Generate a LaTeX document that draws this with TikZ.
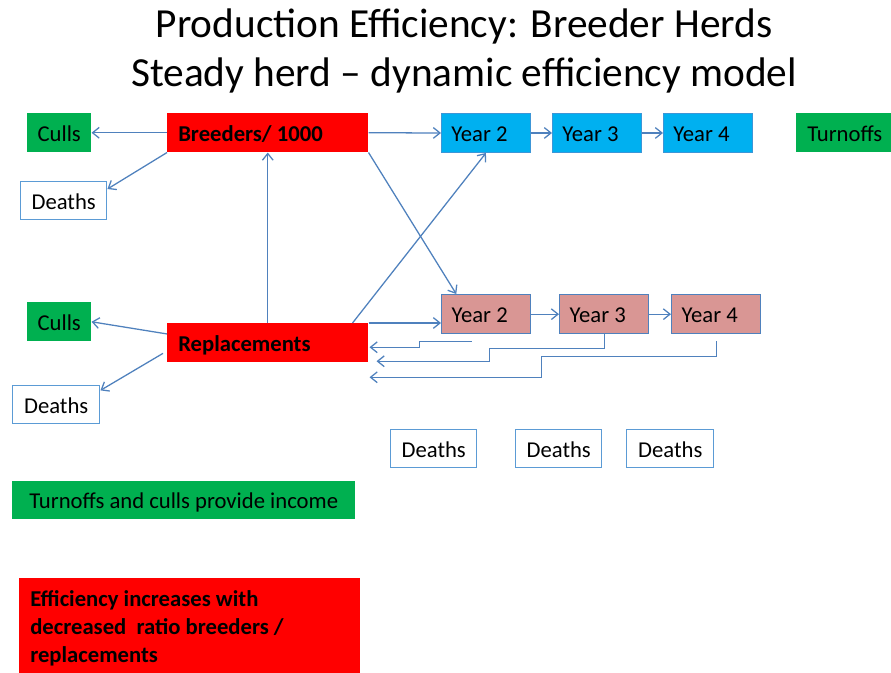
\documentclass[tikz,border=0pt]{standalone}
\usepackage{fontspec}
\setmainfont{Carlito}
\usetikzlibrary{arrows.meta,calc}
\definecolor{arrc}{RGB}{79,129,189}
\definecolor{cgreen}{RGB}{0,176,80}
\definecolor{cred}{RGB}{255,0,0}
\definecolor{cblue}{RGB}{0,176,240}
\definecolor{cbluedraw}{RGB}{60,150,215}
\definecolor{cpink}{RGB}{217,150,148}
\definecolor{cdeath}{RGB}{91,155,213}
\begin{document}
\begin{tikzpicture}[x=0.75pt,y=-0.75pt,
  box/.style={anchor=north west, inner ysep=0pt, minimum height=29.25pt,
    text height=13pt, text depth=0.2pt, font=\fontsize{17}{20}\selectfont},
  cbox/.style={box, inner xsep=0pt},
  lbox/.style={box},
  bbox/.style={lbox, inner xsep=8.25pt, font=\fontsize{17}{20}\selectfont\bfseries},
  yearb/.style={lbox, fill=cblue, draw=cbluedraw, line width=0.7pt, inner xsep=7.5pt},
  yearp/.style={lbox, fill=cpink, draw=arrc, line width=1pt, inner xsep=7.5pt},
  dbox/.style={cbox, fill=white, draw=cdeath, line width=1.1pt, minimum height=28.5pt},
  arr/.style={draw=arrc, line width=0.95pt, -{Straight Barb[length=5pt,width=8pt]}},
  ttl/.style={anchor=base, font=\fontsize{31}{37}\selectfont}
]
\useasboundingbox (0,0) rectangle (891,673);
\clip (0,0) rectangle (891,673);
\fill[white] (0,0) rectangle (891,673);

% title
\node[ttl] (t1) at (464,38) {Production Efficiency: Breeder Herds};
\node[ttl] (t2) at (464,87) {Steady herd -- dynamic efficiency model};

% top row
\node[cbox, fill=cgreen, minimum width=48pt] (cu1) at (27,113) {Culls};
\node[bbox, fill=cred] (br) at (167,113) {\makebox[134.25pt][l]{Breeders/ 1000}};
\node[dbox, minimum width=64.5pt] (de1) at (20,181) {Deaths};
\node[yearb] (b2) at (441,113) {\makebox[51.75pt][l]{Year 2}};
\node[yearb] (b3) at (552,113) {\makebox[51.75pt][l]{Year 3}};
\node[yearb] (b4) at (663,113) {\makebox[51.75pt][l]{Year 4}};
\node[lbox, fill=cgreen, inner xsep=8.25pt] (to) at (796,113) {\makebox[66pt][l]{Turnoffs}};

% middle row
\node[yearp] (p2) at (441,294) {\makebox[51.75pt][l]{Year 2}};
\node[yearp] (p3) at (559,294) {\makebox[51.75pt][l]{Year 3}};
\node[yearp] (p4) at (671,294) {\makebox[51.75pt][l]{Year 4}};
\node[cbox, fill=cgreen, minimum width=48pt] (cu2) at (27,302) {Culls};
\node[bbox, fill=cred] (rp) at (167,323) {\makebox[134.25pt][l]{Replacements}};
\node[dbox, minimum width=65.25pt] (de2) at (12,385) {Deaths};

% deaths row
\node[dbox, minimum width=64.5pt] (d3) at (390,429) {Deaths};
\node[dbox, minimum width=64.5pt] (d4) at (515,429) {Deaths};
\node[dbox, minimum width=65.25pt] (d5) at (626,429) {Deaths};

% notes
\node[cbox, fill=cgreen, minimum width=257.25pt, minimum height=28.5pt] (inc) at (12,481) {Turnoffs and culls provide income};
\node[anchor=north west, fill=cred, inner xsep=8.25pt, inner ysep=9pt,
  font=\fontsize{17}{21}\selectfont\bfseries] (eff) at (19,578)
  {\parbox[t]{239.25pt}{\fontsize{17}{21}\selectfont\bfseries Efficiency increases with\\decreased\ \ ratio breeders /\\replacements\\ \mbox{}}};

% connectors
\draw[arr] (br.west) -- (cu1.east);
\draw[arr] (br.south west) -- (de1.15);
\draw[arr] (br.east) -- (b2.west);
\draw[arr] (b2.east) -- (b3.west);
\draw[arr] (b3.east) -- (b4.west);
\draw[arr] (br.south east) -- (p2.146);
\draw[arr] (rp.north) -- (br.south);
\draw[arr] ($(rp.north east)+(-16,0)$) -- (b2.south);
\draw[arr] (rp.north east) -- (rp.north east -| p2.west);
\draw[arr] (p2.east) -- (p3.west);
\draw[arr] (p3.east) -- (p4.west);
\draw[arr] (rp.175) -- (cu2.east);
\draw[arr] ($(rp.186)+(-4,0)$) -- (de2.18);
\draw[arr] ($(p2.south)+(-14.5,7)$) -- ++(-52,0) |- ($(rp.east)+(1,4.5)$);
\draw[arr] (p3.south) |- ++(-115,14) |- ($(rp.east)+(8,18.5)$);
\draw[arr] ($(p4.south)+(0,7)$) |- ++(-175,15) |- ($(rp.east)+(1,34.5)$);
\end{tikzpicture}
\end{document}
